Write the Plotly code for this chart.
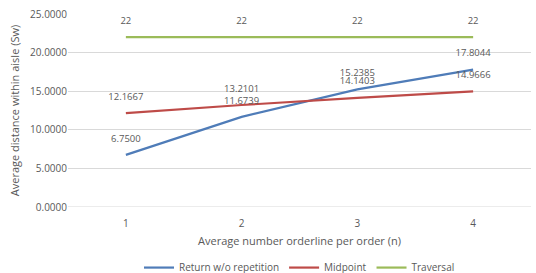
import plotly.graph_objects as go

categories = [1, 2, 3, 4]
return_wo_rep = [6.7500, 11.6739, 15.2385, 17.8044]
midpoint = [12.1667, 13.2101, 14.1403, 14.9666]
traversal = [22, 22, 22, 22]
series_names = ["Return w/o repetition", "Midpoint", "Traversal"]
colors = ["#4F7CB8", "#BE4B48", "#9BBB59"]
y_ticks = [0, 5, 10, 15, 20, 25]

FONT = "Open Sans"
GRAY = "#595959"

fig = go.Figure()
series = [
    (series_names[0], return_wo_rep, colors[0], "{:.4f}"),
    (series_names[1], midpoint, colors[1], "{:.4f}"),
    (series_names[2], traversal, colors[2], "{:d}"),
]
for name, vals, col, fmt in series:
    fig.add_trace(go.Scatter(
        x=categories, y=vals, name=name, mode="lines",
        line=dict(color=col, width=2.2),
    ))
for name, vals, col, fmt in series:
    fig.add_trace(go.Scatter(
        x=categories, y=vals, name=name + " labels", mode="markers+text",
        marker=dict(size=16, opacity=0, color=col),
        text=[fmt.format(v) for v in vals],
        textposition="top center",
        textfont=dict(family=FONT, size=9.5, color=GRAY),
        cliponaxis=False, showlegend=False, hoverinfo="skip",
    ))

fig.update_layout(
    width=536, height=273,
    margin=dict(l=68, r=5, t=14, b=66, autoexpand=False),
    paper_bgcolor="white", plot_bgcolor="white",
    font=dict(family=FONT, color=GRAY, size=10),
    showlegend=True,
    legend=dict(orientation="h", x=0.5, xanchor="center",
                yref="container", y=0.073, yanchor="top",
                font=dict(family=FONT, size=10, color=GRAY), tracegroupgap=0,
                itemwidth=30),
    xaxis=dict(range=[0.5, 4.5], tickvals=categories, ticktext=[str(c) for c in categories],
               showgrid=False, zeroline=False, showline=False, ticks="",
               ticklabelstandoff=9,
               tickfont=dict(size=10, color=GRAY),
               title=dict(text="Average number orderline per order (n)", standoff=8,
                          font=dict(size=11, color=GRAY))),
    yaxis=dict(range=[0, 25], tickvals=y_ticks, tickformat=".4f",
               showgrid=True, gridcolor="#D9D9D9", gridwidth=1, zeroline=False,
               showline=False, ticks="", tickfont=dict(size=10, color=GRAY),
               title=dict(text="Average distance within aisle (Sw)", standoff=8,
                          font=dict(size=11, color=GRAY))),
)
fig.add_shape(type="line", xref="paper", yref="y", x0=0, x1=1, y0=0, y1=0,
              line=dict(color="#D9D9D9", width=1))

fig.write_html("out.html")
